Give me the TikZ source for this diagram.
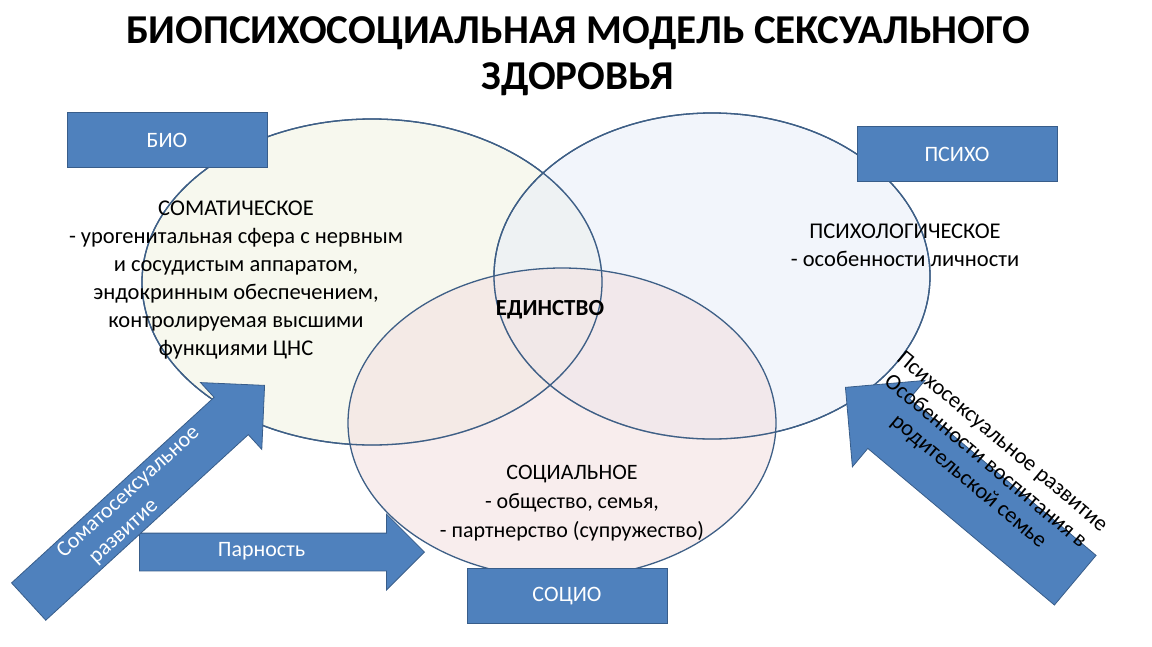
\documentclass[tikz,border=0pt]{standalone}
\usepackage{fontspec}
\setmainfont{Carlito}
\usetikzlibrary{shapes.arrows}
\definecolor{boxblue}{HTML}{4F81BD}
\definecolor{boxedge}{HTML}{385D8A}
\definecolor{ringedge}{HTML}{3E5F86}
\definecolor{biofill}{HTML}{F1F3E2}
\definecolor{psyfill}{HTML}{E9EEF8}
\definecolor{socfill}{HTML}{F3E1E1}
\tikzset{
  label box/.style={draw=boxedge, thick, fill=boxblue, text=white, minimum width=200pt, minimum height=55pt, font=\fontsize{22}{26}\selectfont},
  ring/.style={draw=ringedge, line width=1.3pt, fill opacity=0.6},
  body/.style={font=\fontsize{22.5}{28}\selectfont, align=center},
  big arrow/.style={single arrow, draw=boxedge, thick, fill=boxblue, text=white, inner xsep=2pt, single arrow tip angle=90, font=\fontsize{22}{26}\selectfont}
}
\begin{document}
\begin{tikzpicture}[x=1pt, y=-1pt]
	\useasboundingbox (0,0) rectangle (1152,646);
	% title
	\node[font=\fontsize{41}{46}\selectfont\bfseries, align=center] (title) at (578,56) {БИОПСИХОСОЦИАЛЬНАЯ МОДЕЛЬ СЕКСУАЛЬНОГО\\ЗДОРОВЬЯ};
	% circles
	\filldraw[ring, fill=biofill] (372,282) ellipse [x radius=230, y radius=163];
	\filldraw[ring, fill=psyfill] (712,276) ellipse [x radius=218, y radius=163];
	\filldraw[ring, fill=socfill] (562,423) ellipse [x radius=214, y radius=155];
	\draw[ring] (372,282) ellipse [x radius=230, y radius=163];
	\draw[ring] (712,276) ellipse [x radius=218, y radius=163];
	% boxes
	\node[label box] (bio) at (167,140) {БИО};
	\node[label box] (psycho) at (957,154) {ПСИХО};
	\node[label box] (socio) at (567,596) {СОЦИО};
	% texts
	\node[body] (somatic) at (236,280) {СОМАТИЧЕСКОЕ\\- урогенитальная сфера с нервным\\и сосудистым аппаратом,\\эндокринным обеспечением,\\контролируемая высшими\\функциями ЦНС};
	\node[body] (psychol) at (905,245) {ПСИХОЛОГИЧЕСКОЕ\\- особенности личности};
	\node[body, font=\fontsize{23}{26}\selectfont\bfseries] (unity) at (550,310) {ЕДИНСТВО};
	\node[body, font=\fontsize{22}{29}\selectfont] (social) at (572,503) {СОЦИАЛЬНОЕ\\- общество, семья,\\- партнерство (супружество)};
	% arrows
	\node[big arrow, minimum height=285pt, text height=13pt, text depth=4pt, inner ysep=10pt, single arrow head extend=19pt, anchor=tip] (pair) at (425,552) {\hspace*{-22pt}Парность};
	\node[big arrow, rotate=42.5, minimum height=320pt, align=center, inner ysep=3pt, single arrow head extend=20pt, anchor=tip] (somato) at (265,385) {Соматосексуальное\\развитие\hspace*{60pt}};
	\node[big arrow, rotate=140, minimum height=300pt, text height=0pt, text depth=0pt, inner ysep=32pt, single arrow head extend=24pt, anchor=tip] (psyarrow) at (845,387) {};
	\node[rotate=-40, align=center, font=\fontsize{22.5}{26}\selectfont] (psytext) at (985,462) {Психосексуальное развитие\\Особенности воспитания в\\родительской семье};
\end{tikzpicture}
\end{document}
